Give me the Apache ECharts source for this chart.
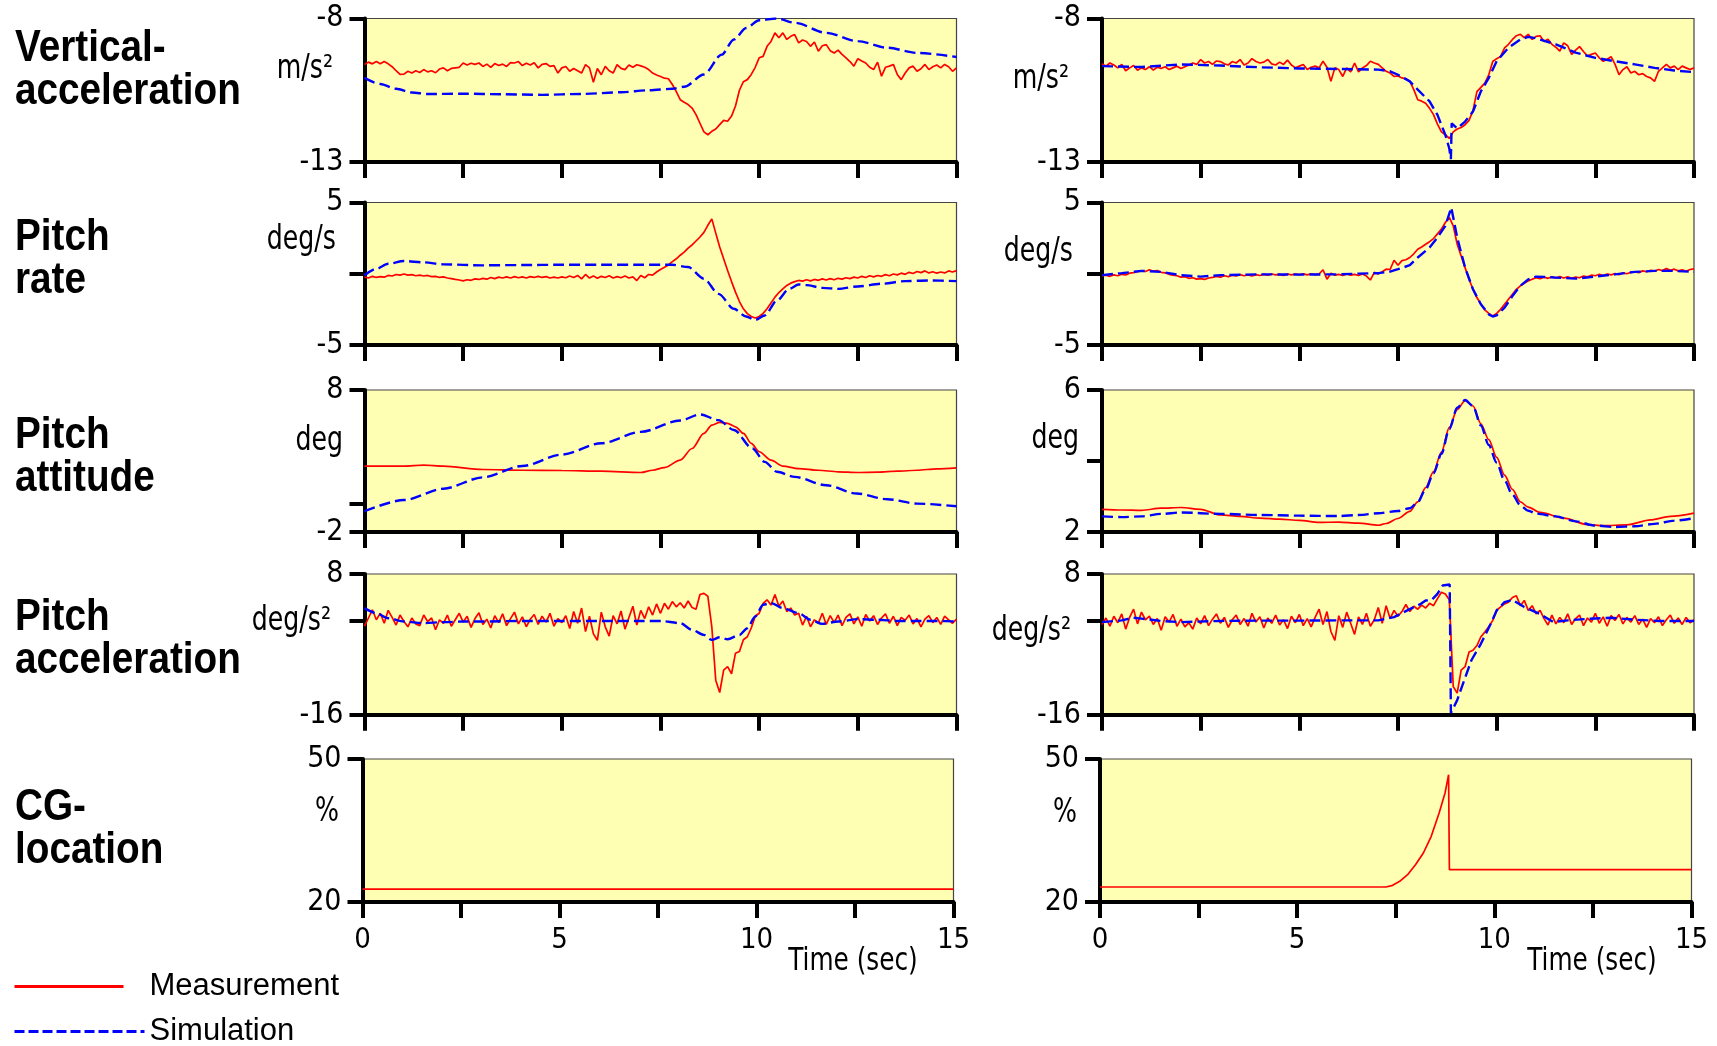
<!DOCTYPE html>
<html>
<head>
<meta charset="utf-8">
<script src="https://cdn.jsdelivr.net/npm/echarts@6/dist/echarts.min.js"></script>
<style>
  html, body { margin: 0; padding: 0; background: #ffffff; }
  #chart { width: 1717px; height: 1046px; }
</style>
</head>
<body>
<div id="chart"></div>
<script>
// Sample step of the uniformly sampled recordings (seconds)
const DT = 0.1;

// ---------- Vertical acceleration (m/s^2) ----------
const vertAccLeftMeas = [
  -9.60, -9.52, -9.58, -9.50, -9.58, -9.50, -9.58, -9.68, -9.82, -9.95,
  -9.94, -9.84, -9.90, -9.82, -9.88, -9.78, -9.86, -9.82, -9.89, -9.76,
  -9.72, -9.82, -9.74, -9.72, -9.70, -9.55, -9.62, -9.56, -9.60, -9.55,
  -9.67, -9.59, -9.70, -9.57, -9.64, -9.59, -9.67, -9.54, -9.55, -9.50,
  -9.64, -9.56, -9.62, -9.54, -9.72, -9.60, -9.57, -9.67, -9.64, -9.90,
  -9.72, -9.67, -9.84, -9.74, -9.82, -9.90, -9.61, -9.72, -10.22, -9.74,
  -9.96, -9.67, -9.82, -9.90, -9.61, -9.74, -9.78, -9.62, -9.70, -9.61,
  -9.65, -9.70, -9.78, -9.90, -9.97, -10.02, -10.08, -10.10, -10.30, -10.55,
  -10.83, -10.92, -11.00, -11.12, -11.35, -11.65, -11.95, -12.05, -11.93, -11.85,
  -11.70, -11.55, -11.58, -11.40, -11.05, -10.50, -10.20, -10.13, -9.95, -9.70,
  -9.37, -9.32, -8.97, -8.80, -8.50, -8.67, -8.50, -8.73, -8.62, -8.56,
  -8.85, -8.75, -8.80, -8.97, -8.82, -9.14, -8.95, -8.91, -9.12, -9.20,
  -9.10, -9.25, -9.37, -9.50, -9.66, -9.40, -9.48, -9.55, -9.70, -9.78,
  -9.52, -10.01, -9.70, -9.66, -9.60, -9.95, -10.13, -9.90, -9.72, -9.66,
  -9.84, -9.75, -9.60, -9.78, -9.68, -9.62, -9.72, -9.60, -9.68, -9.84,
  -9.72
];
const vertAccLeftSim = [
  [0, -10.07], [0.4, -10.28], [0.8, -10.45], [1.2, -10.58], [1.6, -10.63], [2.5, -10.62],
  [3.5, -10.64], [4.5, -10.66], [5.5, -10.63], [6.5, -10.57], [7.2, -10.5], [7.8, -10.45],
  [8.1, -10.38], [8.6, -9.95], [9.05, -9.26], [9.36, -8.73], [9.67, -8.33], [10.0, -8.06],
  [10.45, -8.0], [10.9, -8.15], [11.7, -8.5], [12.5, -8.79], [13.25, -9.02], [14.0, -9.2],
  [15, -9.34]
];
const vertAccRightMeas = [
  -9.58, -9.66, -9.55, -9.62, -9.72, -9.60, -9.82, -9.72, -9.64, -9.80,
  -9.72, -9.78, -9.68, -9.80, -9.70, -9.74, -9.68, -9.78, -9.72, -9.66,
  -9.74, -9.68, -9.62, -9.55, -9.60, -9.43, -9.55, -9.50, -9.60, -9.48,
  -9.50, -9.58, -9.62, -9.50, -9.55, -9.43, -9.62, -9.55, -9.40, -9.50,
  -9.55, -9.52, -9.43, -9.58, -9.62, -9.52, -9.60, -9.45, -9.62, -9.72,
  -9.66, -9.60, -9.78, -9.70, -9.66, -9.72, -9.49, -9.70, -10.19, -9.72,
  -9.78, -10.02, -9.72, -9.86, -9.55, -9.86, -9.72, -9.64, -9.49, -9.55,
  -9.60, -9.72, -9.84, -9.90, -10.02, -10.00, -10.07, -10.10, -10.19, -10.48,
  -10.83, -10.88, -10.95, -11.13, -11.35, -11.68, -11.95, -12.05, -12.18, -11.95,
  -11.85, -11.80, -11.70, -11.55, -11.20, -10.55, -10.40, -10.25, -9.96, -9.50,
  -9.40, -9.32, -9.02, -8.90, -8.73, -8.60, -8.55, -8.67, -8.55, -8.73,
  -8.62, -8.60, -8.80, -8.72, -8.90, -9.00, -9.14, -8.85, -8.95, -9.25,
  -9.10, -8.98, -9.15, -9.31, -9.25, -9.20, -9.37, -9.49, -9.42, -9.33,
  -9.60, -9.96, -9.78, -9.68, -9.90, -9.84, -9.96, -9.92, -10.02, -10.07,
  -10.19, -9.84, -9.72, -9.60, -9.72, -9.66, -9.78, -9.66, -9.72, -9.78,
  -9.72
];
const vertAccRightSim = [
  [0, -9.66], [1, -9.69], [2, -9.6], [3, -9.64], [4, -9.7], [5, -9.74], [6, -9.76],
  [7, -9.78], [7.3, -9.84], [7.5, -9.96], [7.8, -10.19], [8, -10.48], [8.3, -10.89],
  [8.5, -11.36], [8.7, -12.06], [8.8, -12.53], [8.84, -12.9], [8.86, -11.65], [9, -11.83],
  [9.2, -11.59], [9.4, -11.24], [9.6, -10.54], [9.8, -10.07], [10, -9.49], [10.3, -9.02],
  [10.6, -8.73], [10.8, -8.64], [11, -8.69], [11.5, -8.9], [12, -9.19], [12.5, -9.37],
  [13, -9.49], [13.5, -9.6], [14, -9.72], [14.5, -9.81], [15, -9.87]
];

// ---------- Pitch rate (deg/s) ----------
const pitchRateLeftMeas = [
  -0.22, -0.30, -0.18, -0.26, -0.20, -0.24, -0.12, -0.16, -0.05, -0.10,
  -0.02, -0.10, -0.06, -0.14, -0.10, -0.16, -0.12, -0.20, -0.18, -0.26,
  -0.22, -0.30, -0.34, -0.40, -0.44, -0.50, -0.42, -0.46, -0.36, -0.40,
  -0.32, -0.38, -0.26, -0.34, -0.24, -0.30, -0.22, -0.30, -0.20, -0.28,
  -0.22, -0.30, -0.20, -0.26, -0.18, -0.26, -0.20, -0.30, -0.24, -0.30,
  -0.22, -0.28, -0.16, -0.26, -0.12, -0.36, -0.05, -0.30, -0.15, -0.32,
  -0.18, -0.26, -0.14, -0.30, -0.20, -0.28, -0.16, -0.30, -0.22, -0.48,
  -0.12, -0.28, -0.05, -0.10, 0.12, 0.30, 0.45, 0.62, 0.85, 1.05,
  1.30, 1.52, 1.80, 2.02, 2.30, 2.58, 2.90, 3.40, 3.85, 2.85,
  1.88, 1.05, 0.23, -0.55, -1.29, -1.95, -2.46, -2.80, -3.00, -3.10,
  -3.00, -2.78, -2.46, -2.05, -1.64, -1.32, -1.06, -0.82, -0.66, -0.55,
  -0.47, -0.52, -0.42, -0.50, -0.40, -0.46, -0.36, -0.44, -0.34, -0.42,
  -0.32, -0.38, -0.28, -0.34, -0.24, -0.30, -0.18, -0.26, -0.14, -0.22,
  -0.12, -0.18, -0.06, -0.14, -0.02, -0.08, 0.04, -0.04, 0.10, 0.02,
  0.16, 0.08, 0.20, 0.06, 0.14, 0.04, 0.12, 0.06, 0.20, 0.12,
  0.22
];
const pitchRateLeftSim = [
  [0, -0.12], [0.3, 0.35], [0.6, 0.7], [1.0, 0.89], [1.5, 0.8], [2, 0.66], [3, 0.59],
  [4, 0.61], [5, 0.63], [6, 0.63], [7, 0.63], [7.8, 0.63], [8.2, 0.47], [8.6, -0.35],
  [8.97, -1.41], [9.36, -2.46], [9.67, -3.0], [9.9, -3.24], [10.14, -2.93], [10.45, -1.88],
  [10.76, -1.06], [11, -0.75], [11.2, -0.8], [11.6, -0.99], [12, -1.06], [12.5, -0.89],
  [13.1, -0.7], [13.7, -0.52], [14.3, -0.47], [15, -0.52]
];
const pitchRateRightMeas = [
  -0.15, -0.10, -0.18, -0.08, -0.14, -0.04, -0.08, 0.04, 0.08, 0.14,
  0.20, 0.16, 0.28, 0.18, 0.22, 0.10, 0.06, -0.04, -0.10, -0.14,
  -0.24, -0.20, -0.32, -0.28, -0.38, -0.34, -0.40, -0.30, -0.26, -0.18,
  -0.24, -0.14, -0.20, -0.10, -0.16, -0.06, -0.14, -0.08, -0.16, -0.06,
  -0.12, -0.04, -0.10, -0.02, -0.08, -0.04, -0.12, -0.02, -0.08, -0.02,
  -0.06, -0.01, -0.08, 0.00, -0.06, -0.02, 0.28, -0.38, 0.04, -0.10,
  -0.04, -0.12, -0.02, -0.10, -0.04, -0.12, -0.02, -0.16, -0.44, 0.10,
  -0.02, 0.14, 0.32, 0.30, 0.95, 0.60, 0.92, 0.98, 1.14, 1.40,
  1.72, 1.88, 2.07, 2.25, 2.47, 2.80, 3.13, 3.60, 3.95, 3.36,
  2.07, 1.25, 0.43, -0.39, -1.09, -1.67, -2.14, -2.54, -2.78, -2.96,
  -2.78, -2.50, -2.14, -1.79, -1.44, -1.09, -0.85, -0.67, -0.50, -0.39,
  -0.27, -0.34, -0.24, -0.32, -0.22, -0.30, -0.20, -0.30, -0.22, -0.32,
  -0.24, -0.28, -0.16, -0.22, -0.10, -0.14, -0.04, -0.12, -0.02, -0.08,
  0.02, -0.06, 0.06, 0.00, 0.10, 0.14, 0.08, 0.20, 0.14, 0.24,
  0.18, 0.30, 0.22, 0.36, 0.24, 0.32, 0.20, 0.28, 0.18, 0.30,
  0.34
];
const pitchRateRightSim = [
  [0, -0.1], [0.5, 0.04], [1, 0.2], [1.5, 0.13], [2, -0.1], [2.5, -0.2], [3, -0.1],
  [4, -0.04], [5, -0.06], [6, -0.04], [6.5, 0.01], [7, 0.04], [7.3, 0.15], [7.5, 0.32],
  [7.8, 0.6], [8, 1.14], [8.3, 1.84], [8.5, 2.54], [8.7, 3.36], [8.85, 4.65], [9, 2.54],
  [9.2, 0.43], [9.4, -1.09], [9.6, -2.14], [9.8, -2.85], [9.9, -3.0], [10, -2.92],
  [10.2, -2.38], [10.4, -1.56], [10.6, -0.85], [10.8, -0.39], [11, -0.2], [11.5, -0.27],
  [12, -0.34], [12.5, -0.2], [13, -0.04], [13.5, 0.13], [14, 0.2], [14.5, 0.2], [15, 0.13]
];

// ---------- Pitch attitude (deg) ----------
const pitchAttLeftMeas = [
  [0, 2.64], [1, 2.64], [1.5, 2.71], [2, 2.64], [3, 2.40], [4, 2.35], [5, 2.33], [6, 2.28],
  [7, 2.19], [7.3, 2.35], [7.6, 2.54], [8, 3.06], [8.3, 3.88], [8.6, 4.94], [8.8, 5.53],
  [9, 5.72], [9.2, 5.65], [9.4, 5.41], [9.6, 4.94], [9.8, 4.24], [10, 3.65], [10.3, 3.06],
  [10.6, 2.64], [11, 2.47], [11.5, 2.35], [12, 2.24], [12.5, 2.19], [13, 2.21], [13.5, 2.28],
  [14, 2.35], [14.5, 2.45], [15, 2.52]
];
const pitchAttLeftSim = [
  [0, -0.54], [1, 0.25], [2, 1.05], [3, 1.85], [4, 2.65], [5, 3.45], [6, 4.25], [7, 5.05],
  [8, 5.85], [8.5, 6.28], [8.97, 5.88], [9.36, 5.18], [9.83, 3.88], [10.14, 2.94],
  [10.45, 2.24], [10.9, 1.88], [11.7, 1.29], [12.47, 0.71], [13.25, 0.31], [14.0, 0.0],
  [15, -0.19]
];
const pitchAttRightMeas = [
  [0, 2.64], [0.5, 2.62], [1, 2.61], [1.5, 2.67], [2, 2.69], [2.5, 2.64], [3, 2.48],
  [3.5, 2.44], [4, 2.39], [4.5, 2.36], [5, 2.33], [5.5, 2.27], [6, 2.28], [6.5, 2.25],
  [7, 2.19], [7.2, 2.24], [7.5, 2.38], [7.8, 2.58], [8.0, 2.85], [8.2, 3.25], [8.4, 3.7],
  [8.6, 4.25], [8.8, 4.95], [9.0, 5.45], [9.2, 5.7], [9.4, 5.55], [9.6, 5.05], [9.8, 4.6],
  [10.0, 4.1], [10.2, 3.6], [10.4, 3.2], [10.6, 2.85], [10.8, 2.7], [11.1, 2.55],
  [11.7, 2.39], [12.3, 2.21], [12.7, 2.18], [13.3, 2.2], [13.9, 2.34], [14.4, 2.44],
  [15, 2.53]
];
const pitchAttRightSim = [
  [0, 2.44], [0.5, 2.42], [1, 2.44], [1.5, 2.51], [2, 2.55], [3, 2.51], [4, 2.48],
  [5, 2.46], [6, 2.45], [6.5, 2.48], [7, 2.53], [7.5, 2.59], [7.8, 2.67], [8, 2.84],
  [8.2, 3.2], [8.4, 3.65], [8.6, 4.2], [8.8, 4.9], [9.0, 5.5], [9.2, 5.72], [9.4, 5.55],
  [9.6, 5.0], [9.8, 4.45], [10, 3.95], [10.2, 3.45], [10.4, 3.05], [10.6, 2.75],
  [10.8, 2.6], [11, 2.52], [11.5, 2.44], [12, 2.3], [12.5, 2.18], [13, 2.14], [13.5, 2.16],
  [14, 2.23], [14.5, 2.32], [15, 2.39]
];

// ---------- Pitch acceleration (deg/s^2) ----------
const pitchAccLeftMeas = [
  -0.9, 0.5, 1.9, 0.2, 1.3, -0.4, 1.8, 0.6, -0.7, 1.0,
  -0.1, -1.0, 0.5, -0.5, -0.8, 1.0, -0.1, 0.5, -1.5, 0.2,
  -0.4, 1.0, -0.9, 0.2, 1.3, -0.2, 0.8, -1.1, 0.4, 1.4,
  -0.6, 0.3, -1.2, 0.9, -0.3, 1.2, -0.8, 0.4, 1.5, -0.5,
  0.7, -1.0, 0.3, 1.1, -0.6, 0.8, -0.2, 1.3, -0.9, 0.4,
  -0.3, 0.9, -1.3, 1.6, -0.4, 2.2, -1.8, 0.8, -2.2, -3.3,
  1.5, -1.0, -2.6, 0.9, -0.5, 1.7, -1.4, 0.6, 2.5, -0.7,
  1.8, 0.4, 2.4, 1.0, 2.9, 1.3, 3.0, 2.0, 3.3, 2.4,
  3.1, 2.2, 3.4, 2.3, 2.0, 4.5, 4.7, 4.2, -1.0, -10.1,
  -12.2, -8.4, -7.8, -9.0, -5.5, -5.2, -3.2, -2.7, -1.2, 0.8,
  1.3, 3.0, 3.6, 2.7, 4.5, 2.5, 3.4, 1.6, 2.2, 1.0,
  1.3, -0.7, 0.8, -1.0, 0.2, -0.4, 1.3, -0.6, 0.9, -0.3,
  1.0, -0.8, 0.6, 1.2, -0.5, 0.7, -0.9, 1.1, 0.0, 0.9,
  -0.6, 0.5, 1.2, -0.4, 0.8, -0.8, 0.6, 0.1, 1.0, -0.5,
  0.4, -1.0, 0.3, 0.9, -0.3, 0.6, -0.6, 0.8, 0.2, -0.4,
  0.3
];
const pitchAccLeftSim = [
  [0, 2.18], [0.3, 1.33], [0.6, 0.47], [1, -0.1], [1.5, -0.38], [2, -0.2], [2.5, -0.1],
  [3, -0.1], [4, 0.0], [5, 0.0], [6, 0.0], [7, 0.0], [7.5, 0.0], [8, -0.38], [8.3, -1.52],
  [8.6, -2.38], [8.8, -3.23], [9.0, -2.78], [9.2, -3.12], [9.5, -2.4], [9.7, -1.24],
  [9.9, 0.76], [10.1, 2.76], [10.3, 3.05], [10.6, 2.18], [11, 1.33], [11.3, 0.2],
  [11.6, -0.5], [12, -0.1], [12.5, 0.3], [13, 0.2], [13.5, 0.0], [14, 0.0], [14.5, 0.0],
  [15, -0.1]
];
const pitchAccRightMeas = [
  -0.6, 0.5, -0.9, 0.8, -0.3, 1.2, -1.4, 0.6, 2.0, -0.5,
  1.5, 0.2, 0.8, -0.6, 0.4, -1.6, 0.7, -0.2, 1.1, -0.9,
  0.3, -1.0, -0.3, -1.4, 0.5, -0.5, 0.9, -0.8, 0.3, 1.2,
  -0.4, 0.6, -1.1, 0.2, 1.0, -0.6, 0.4, -0.9, 1.3, -0.2,
  0.7, -1.2, 0.5, -0.4, 1.0, -0.7, 0.2, -1.3, 0.8, -0.3,
  1.1, -0.8, 0.4, -1.0, 0.6, 2.0, -0.6, 1.6, -1.8, -3.3,
  0.9, -1.1, 1.5, -0.4, -2.3, 0.7, -0.6, 1.3, -0.9, 0.2,
  2.3, -0.4, 2.6, 0.4, 1.8, 0.8, 1.6, 2.8, 1.6, 2.5,
  2.0, 2.7, 2.2, 3.0, 2.6, 3.8, 4.9, 4.6, 3.6, -11.2,
  -12.3, -8.4, -7.8, -5.3, -5.0, -4.2, -2.7, -1.9, -1.0, 0.1,
  1.8, 2.4, 2.9, 3.2, 4.0, 4.3, 2.6, 3.5, 1.8, 2.6,
  1.2, 1.8, 0.4, -0.7, 1.0, -0.5, 0.6, -0.3, 1.2, -0.6,
  0.4, 1.0, -0.8, 0.5, -0.2, 1.3, -0.4, 0.7, -0.9, 0.9,
  0.1, 1.1, -0.5, 0.6, -0.2, 0.9, -0.6, 0.3, -1.1, 0.4,
  -0.3, 0.7, -0.8, 0.2, 1.0, -0.4, 0.5, -0.6, 0.6, -0.3,
  0.2
];
const pitchAccRightSim = [
  [0, -0.2], [0.5, 0.1], [0.8, 0.55], [1, 0.4], [1.5, 0.0], [2, -0.2], [3, 0.0], [4, 0.05],
  [5, 0.05], [6, 0.1], [7, 0.1], [7.4, 0.66], [7.65, 1.5], [7.9, 2.36], [8.08, 2.92],
  [8.2, 3.49], [8.35, 3.55], [8.5, 4.62], [8.63, 6.03], [8.81, 6.2], [8.84, -15.7],
  [9.0, -13.5], [9.12, -11.2], [9.36, -6.7], [9.6, -3.9], [9.85, -0.47], [10.0, 1.79],
  [10.2, 3.2], [10.4, 3.6], [10.7, 2.36], [11.08, 1.23], [11.44, -0.19], [11.8, 0.1],
  [12.3, 0.35], [12.9, 0.55], [13.5, 0.21], [14.1, 0.0], [15, -0.02]
];

// ---------- CG location (%) ----------
const cgLeftMeas = [[0, 22.7], [15, 22.7]];
const cgRightMeas = [
  [0, 23.15], [7.25, 23.15], [7.4, 23.43], [7.6, 24.34], [7.8, 25.73], [8.0, 27.83],
  [8.2, 30.28], [8.4, 33.78], [8.6, 38.67], [8.75, 42.87], [8.84, 46.71], [8.86, 26.78],
  [15, 26.78]
];

// ---------- Axis ticks and labels ----------
const timeTicks = [0, 5, 10, 15];
const vertAccTicks = [-13, -8];
const pitchRateTicks = [-5, 0, 5];
const pitchAttLeftTicks = [-2, 0, 8];
const pitchAttRightTicks = [2, 4, 6];
const pitchAccTicks = [-16, 0, 8];
const cgTicks = [20, 50];

const rowTitles = [
  ['Vertical-', 'acceleration'],
  ['Pitch', 'rate'],
  ['Pitch', 'attitude'],
  ['Pitch', 'acceleration'],
  ['CG-', 'location']
];
const unitNames = ['m/s\u00b2', 'deg/s', 'deg', 'deg/s\u00b2', '%'];
const seriesNames = ['Measurement', 'Simulation'];
const timeTitle = 'Time (sec)';

// ---------- Layout ----------
const FONT = "'Liberation Sans Narrow', 'DejaVu Sans Condensed', 'Arial Narrow', sans-serif";
const TITLE_FONT = "'Liberation Sans', Arial, sans-serif";
const LEGEND_FONT = "'Liberation Sans', Arial, sans-serif";
const RED = '#ff0000';
const BLUE = '#0000ff';

const rowTop = [18.5, 202.5, 390, 574, 759];
const rowHeight = [143.5, 142.5, 142, 140.8, 143];
const colLeft = [[364.5, 364.5, 364.5, 364.5, 362.5], [1102, 1102, 1102, 1102, 1100]];
const colWidth = [[592, 592, 592, 592, 591], [592, 592, 592, 592, 591.5]];

const uniform = vals => vals.map((v, k) => [Math.round(k * DT * 100) / 100, v]);

// col 0 = left test case, col 1 = right test case
const panels = [
  { col: 0, row: 0, ticks: vertAccTicks, meas: uniform(vertAccLeftMeas), sim: vertAccLeftSim },
  { col: 0, row: 1, ticks: pitchRateTicks, meas: uniform(pitchRateLeftMeas), sim: pitchRateLeftSim },
  { col: 0, row: 2, ticks: pitchAttLeftTicks, meas: pitchAttLeftMeas, sim: pitchAttLeftSim, smoothMeas: true },
  { col: 0, row: 3, ticks: pitchAccTicks, meas: uniform(pitchAccLeftMeas), sim: pitchAccLeftSim },
  { col: 0, row: 4, ticks: cgTicks, meas: cgLeftMeas, sim: null },
  { col: 1, row: 0, ticks: vertAccTicks, meas: uniform(vertAccRightMeas), sim: vertAccRightSim, sharpSim: true },
  { col: 1, row: 1, ticks: pitchRateTicks, meas: uniform(pitchRateRightMeas), sim: pitchRateRightSim, sharpSim: true },
  { col: 1, row: 2, ticks: pitchAttRightTicks, meas: pitchAttRightMeas, sim: pitchAttRightSim, smoothMeas: true },
  { col: 1, row: 3, ticks: pitchAccTicks, meas: uniform(pitchAccRightMeas), sim: pitchAccRightSim, sharpSim: true },
  { col: 1, row: 4, ticks: cgTicks, meas: cgRightMeas, sim: null }
];

const grids = [], xAxes = [], yAxes = [], series = [];
const axisLineStyle = { color: '#000', width: 4 };

panels.forEach((p, i) => {
  const yMin = p.ticks[0], yMax = p.ticks[p.ticks.length - 1];
  const isBottom = p.row === 4;
  grids.push({
    left: colLeft[p.col][p.row], top: rowTop[p.row],
    width: colWidth[p.col][p.row], height: rowHeight[p.row],
    show: true, backgroundColor: '#ffffb4', borderColor: '#444', borderWidth: 1.2
  });
  xAxes.push({
    gridIndex: i, type: 'value', min: 0, max: 15, interval: 2.5,
    axisLine: { show: true, onZero: false, lineStyle: axisLineStyle },
    axisTick: { show: true, inside: false, length: 16, lineStyle: { color: '#000', width: 4 } },
    axisLabel: {
      show: isBottom, customValues: timeTicks, margin: 24,
      fontSize: 29, fontFamily: FONT, color: '#000'
    },
    splitLine: { show: false }
  });
  yAxes.push({
    gridIndex: i, type: 'value', min: yMin, max: yMax,
    axisLine: { show: true, onZero: false, lineStyle: axisLineStyle },
    axisTick: { show: true, customValues: p.ticks, length: 15, lineStyle: { color: '#000', width: 4 } },
    axisLabel: {
      show: true, customValues: [yMin, yMax], margin: 21,
      fontSize: 30, fontFamily: FONT, color: '#000'
    },
    splitLine: { show: false }
  });
  series.push({
    name: seriesNames[0], type: 'line', xAxisIndex: i, yAxisIndex: i,
    data: p.meas, symbol: 'none', showSymbol: false,
    smooth: p.smoothMeas ? 0.3 : false, smoothMonotone: 'x',
    lineStyle: { color: RED, width: 1.7 }, itemStyle: { color: RED },
    z: 2, silent: true
  });
  if (p.sim) {
    series.push({
      name: seriesNames[1], type: 'line', xAxisIndex: i, yAxisIndex: i,
      data: p.sim, symbol: 'none', showSymbol: false,
      smooth: p.sharpSim ? false : 0.3, smoothMonotone: 'x',
      lineStyle: { color: BLUE, width: 2.4, type: [11, 5] }, itemStyle: { color: BLUE },
      z: 3, silent: true
    });
  }
});

// Row titles, unit names and time captions (condensed horizontally)
const titleY = [[49, 92], [238, 281], [436, 479], [618, 661], [808, 851]];
const unitPos = [
  [[333, 69], [1069, 79]],
  [[336, 240], [1073, 252]],
  [[343, 441], [1079, 439]],
  [[331, 621], [1071, 631]],
  [[339, 812], [1077, 813]]
];
const graphics = [];
rowTitles.forEach((lines, r) => {
  lines.forEach((txt, k) => {
    graphics.push({
      type: 'text', x: 15, y: titleY[r][k], scaleX: 0.86, silent: true,
      style: { text: txt, fontSize: 45, fontWeight: 'bold', fontFamily: TITLE_FONT, fill: '#000',
               align: 'left', verticalAlign: 'middle' }
    });
  });
  unitPos[r].forEach(([x, y]) => {
    graphics.push({
      type: 'text', x: x, y: y, scaleX: 0.85, silent: true,
      style: { text: unitNames[r], fontSize: 33, fontFamily: FONT, fill: '#000',
               align: 'right', verticalAlign: 'middle' }
    });
  });
});
[[853, 962], [1592, 962]].forEach(([x, y]) => {
  graphics.push({
    type: 'text', x: x, y: y, scaleX: 0.86, silent: true,
    style: { text: timeTitle, fontSize: 32, fontFamily: FONT, fill: '#000',
             align: 'center', verticalAlign: 'middle' }
  });
});

const legendBase = {
  orient: 'vertical', left: 13, padding: 0, itemHeight: 14, selectedMode: false,
  itemStyle: { opacity: 0 },
  textStyle: { fontSize: 31, fontFamily: LEGEND_FONT, color: '#000' }
};

const chart = echarts.init(document.getElementById('chart'), null, { renderer: 'canvas' });
chart.setOption({
  animation: false,
  backgroundColor: '#ffffff',
  grid: grids,
  xAxis: xAxes,
  yAxis: yAxes,
  series: series,
  legend: [
    Object.assign({}, legendBase, {
      top: 971, data: [seriesNames[0]], itemWidth: 109,
      lineStyle: { width: 3 },
      textStyle: Object.assign({}, legendBase.textStyle, { padding: [0, 0, 0, 21] })
    }),
    Object.assign({}, legendBase, {
      top: 1016, data: [seriesNames[1]], itemWidth: 130,
      lineStyle: { width: 3, type: [10, 4] },
      textStyle: Object.assign({}, legendBase.textStyle, { padding: [0, 0, 0, 0] })
    })
  ],
  graphic: graphics
});
</script>
</body>
</html>
